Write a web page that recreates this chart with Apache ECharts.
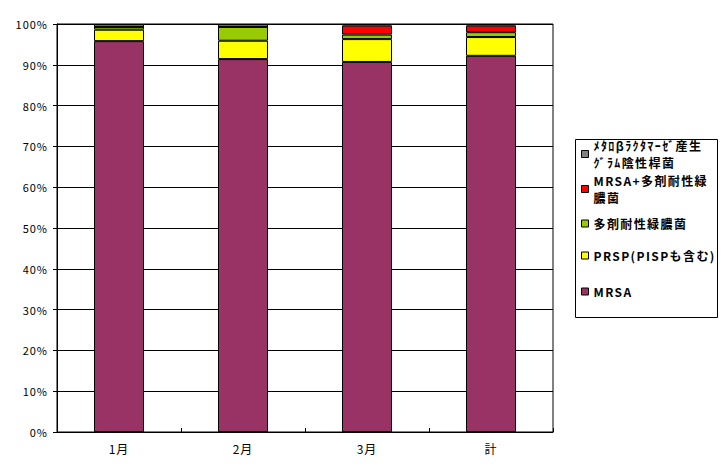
<!DOCTYPE html>
<html><head><meta charset="utf-8">
<script src="https://cdn.jsdelivr.net/npm/echarts@6/dist/echarts.min.js"></script>
<style>
html,body{margin:0;padding:0;background:#fff}
#c{width:727px;height:474px}
#c text{letter-spacing:1px}
#c text[style*="bold"]{letter-spacing:1.4px}
</style>
</head><body><div id="c"></div>
<script>
const categories = ['1月', '2月', '3月', '計'];
const mrsa = [95.8, 91.4, 90.7, 92.2];
const prsp = [2.8, 4.5, 5.6, 4.6];
const mdrp = [0.7, 3.4, 1.1, 1.2];
const mrsaMdrp = [0, 0, 2.2, 1.6];
const mbl = [0.7, 0.7, 0.4, 0.4];
const yTicks = ['0%','10%','20%','30%','40%','50%','60%','70%','80%','90%','100%'];

const names = ['MRSA', 'PRSP(PISPも含む)', '多剤耐性緑膿菌', 'MRSA+多剤耐性緑膿菌', 'ﾒﾀﾛβﾗｸﾀﾏｰｾﾞ産生ｸﾞﾗﾑ陰性桿菌'];
const labels = ['MRSA', 'PRSP(PISPも含む)', '多剤耐性緑膿菌', 'MRSA+多剤耐性緑\n膿菌', 'ﾒﾀﾛβﾗｸﾀﾏｰｾﾞ産生\nｸﾞﾗﾑ陰性桿菌'];
const colors = ['#993366', '#FFFF00', '#99CC00', '#FF0000', '#808080'];
const values = [mrsa, prsp, mdrp, mrsaMdrp, mbl];
const legendTops = [278, 242, 210, 157, 122];

const font = "'Noto Sans CJK JP', sans-serif";
const chart = echarts.init(document.getElementById('c'), null, {renderer: 'svg'});
const series = names.map((n, i) => ({
  name: n, type: 'bar', stack: 'all', data: values[i],
  barWidth: 50,
  itemStyle: {color: colors[i], borderColor: '#000', borderWidth: 1},
  emphasis: {disabled: true}
}));
const legends = names.map((n, i) => ({
  data: [n], left: 576, top: legendTops[i], orient: 'vertical',
  itemWidth: 7, itemHeight: 7, itemGap: 5, icon: 'rect',
  formatter: () => labels[i],
  itemStyle: {borderColor: '#000', borderWidth: 1},
  selectedMode: false,
  textStyle: {fontFamily: font, fontSize: 12, fontWeight: 'bold', color: '#000', lineHeight: 17,
    padding: labels[i].includes('\n') ? [20, 0, 0, 0] : 0}
}));
chart.setOption({
  animation: false,
  backgroundColor: '#fff',
  grid: {left: 57, right: 174, top: 24, bottom: 42, show: true, borderColor: '#000', borderWidth: 1},
  legend: legends,
  xAxis: {
    type: 'category', data: categories,
    axisLine: {lineStyle: {color: '#000', width: 1}},
    axisTick: {show: true, inside: true, length: 4, lineStyle: {color: '#000'}},
    axisLabel: {color: '#000', fontFamily: font, fontSize: 12, margin: 10}
  },
  yAxis: {
    type: 'value', min: 0, max: 100, interval: 10,
    axisLine: {show: true, lineStyle: {color: '#000', width: 1}},
    axisTick: {show: true, length: 4, lineStyle: {color: '#000'}},
    splitLine: {show: true, lineStyle: {color: '#000', width: 1}},
    axisLabel: {color: '#000', fontFamily: font, fontSize: 11, margin: 9,
      formatter: v => yTicks[Math.round(v / 10)]}
  },
  graphic: [{type: 'rect', left: 573, top: 137, shape: {width: 142, height: 178},
    style: {fill: 'none', stroke: '#000', lineWidth: 1}, silent: true}],
  series: series
});
</script></body></html>
